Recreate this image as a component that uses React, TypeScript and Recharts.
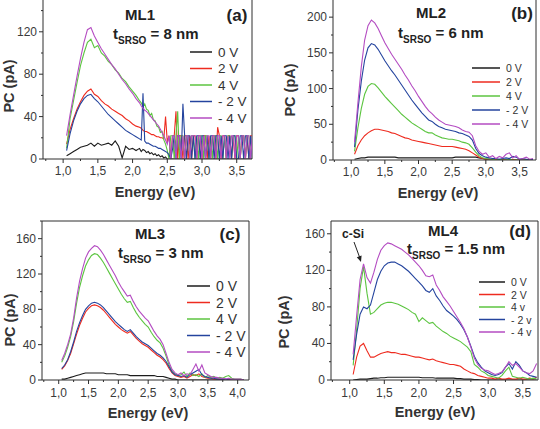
import React from "react";
import { LineChart, Line, XAxis, YAxis, ReferenceLine } from "recharts";

const FONT = '"Liberation Sans", Arial, Helvetica, sans-serif';
const INK = "#2e2e2e";

const SERIES = ["k0", "r2", "g4", "b2", "m4"];
const COLORS: Record<string, string> = {
  k0: "#1c1c1c",
  r2: "#ee2b1f",
  g4: "#5cc540",
  b2: "#24449e",
  m4: "#b44cc2",
};
const legendV = ["0 V", "2 V", "4 V", "- 2 V", "- 4 V"];
const legendLowV = ["0 V", "2 V", "4 v", "- 2 v", "- 4 v"];

// (a) ML1, tSRSO = 8 nm  (finer steps where the signal turns into noise)
const energyA = [
  1.05, 1.1, 1.15, 1.2, 1.25, 1.3, 1.35, 1.4, 1.45, 1.5,
  1.55, 1.6, 1.65, 1.7, 1.75, 1.8, 1.85, 1.9, 1.95, 2.0,
  2.05, 2.1,
  2.125, 2.15, 2.175, 2.2, 2.225, 2.25, 2.275, 2.3,
  2.325, 2.35, 2.375, 2.4, 2.425, 2.45, 2.475, 2.5,
  2.525, 2.55, 2.575, 2.6, 2.625, 2.65, 2.675, 2.7, 2.725, 2.75,
  2.775, 2.8, 2.825, 2.85, 2.875, 2.9, 2.925, 2.95, 2.975, 3.0,
  3.025, 3.05, 3.075, 3.1, 3.125, 3.15, 3.175, 3.2, 3.225, 3.25,
  3.275, 3.3, 3.325, 3.35, 3.375, 3.4, 3.425, 3.45, 3.475, 3.5,
  3.525, 3.55, 3.575, 3.6, 3.625, 3.65, 3.675, 3.7, 3.725, 3.75,
];
const a0V = [
  3, 5, 7, 9, 11, 12, 13, 15, 12, 15, 13, 14, 15, 13, 17, 12, 1, 12, 9, 10, 8, 10,
  7, 9, 8, 6, 7, 5, 6, 4, 5, 3, 4, 2, 3, 1, 2, 0,
  0, 0, 0, 0, 0, 0, 0, 0, 0, 0, 0, 0, 0, 0, 0, 0, 0, 0, 0, 0,
  0, 0, 0, 0, 0, 0, 0, 0, 0, 0, 0, 0, 0, 0, 0, 0, 0, 0, 0, 0,
  0, 0, 0, 0, 0, 0, 0, 0, 0, 0,
];
const a2V = [
  14, 28, 38, 47, 54, 60, 64, 66, 61, 59, 55, 52, 50, 47, 45, 43, 41, 38, 36, 33, 31, 30,
  29, 27, 26, 26, 25, 24, 23, 23, 22, 21, 21, 20, 20, 19, 40, 16,
  22, 0, 22, 22, 45, 0, 22, 22, 0, 22, 22, 0, 22, 0, 22, 22, 0, 22, 22, 0,
  22, 22, 0, 22, 0, 22, 22, 0, 30, 22, 0, 22, 22, 0, 22, 22, 0, 22, 0, 22,
  22, 0, 22, 22, 0, 22, 0, 22, 22, 0,
];
const a4V = [
  10, 38, 55, 72, 88, 100, 110, 113, 105, 107, 100, 97, 92, 89, 84, 81, 76, 73, 68, 64, 60, 55,
  53, 49, 52, 47, 46, 41, 43, 37, 36, 31, 30, 25, 26, 18, 14, 8,
  0, 22, 22, 0, 22, 45, 0, 22, 22, 0, 22, 22, 0, 22, 22, 0, 22, 0, 22, 22,
  0, 22, 22, 0, 22, 0, 22, 22, 0, 22, 22, 0, 22, 0, 22, 22, 0, 22, 22, 0,
  22, 0, 22, 22, 0, 22, 22, 0, 22, 22,
];
const aM2V = [
  8, 24, 36, 45, 52, 57, 60, 61, 57, 54, 50, 46, 42, 39, 36, 33, 30, 27, 25, 23, 21, 19,
  18, 62, 17, 15, 15, 14, 13, 12, 12, 11, 10, 10, 9, 8, 7, 6,
  4, 0, 9, 22, 0, 22, 22, 0, 52, 22, 0, 22, 22, 0, 22, 0, 22, 22, 0, 22,
  22, 0, 22, 0, 22, 22, 0, 22, 22, 0, 22, 0, 22, 22, 0, 22, 0, 22, 22, 0,
  0, 22, 22, 0, 22, 22, 0, 22, 0, 22,
];
const aM4V = [
  22, 42, 60, 78, 95, 110, 122, 124, 116, 110, 104, 99, 94, 89, 85, 80, 75, 71, 66, 62, 57, 53,
  50, 48, 46, 45, 43, 41, 39, 37, 35, 33, 31, 28, 25, 22, 18, 14,
  22, 0, 22, 22, 0, 22, 22, 0, 22, 0, 22, 22, 0, 22, 22, 22, 0, 22, 22, 0,
  22, 0, 22, 22, 0, 22, 22, 0, 22, 22, 0, 22, 22, 0, 22, 0, 22, 22, 0, 22,
  22, 0, 22, 22, 0, 22, 22, 0, 22, 22,
];

// (b) ML2, tSRSO = 6 nm
const energyB = [
  1.05, 1.1, 1.15, 1.2, 1.25, 1.3, 1.35, 1.4, 1.45, 1.5,
  1.55, 1.6, 1.65, 1.7, 1.75, 1.8, 1.85, 1.9, 1.95, 2.0,
  2.05, 2.1, 2.15, 2.2, 2.25, 2.3, 2.35, 2.4, 2.45, 2.5,
  2.55, 2.6, 2.65, 2.7, 2.75, 2.8, 2.85, 2.9, 2.95, 3.0,
  3.05, 3.1, 3.15, 3.2, 3.25, 3.3, 3.35, 3.4, 3.45, 3.5,
  3.55, 3.6, 3.65, 3.7,
];
const b0V = [
  1, 2, 3, 3, 4, 4, 4, 4, 4, 4, 4, 4, 4, 3, 3, 3, 3, 3, 3, 3,
  3, 3, 3, 3, 3, 3, 3, 3, 3, 3, 4, 4, 4, 4, 4, 4, 4, 3, 2, 1,
  1, 0, 0, 0, 0, 0, 0, 0, 0, 0, 0, 0, 0, 0,
];
const b2V = [
  8, 20, 28, 34, 38, 41, 43, 43, 42, 41, 40, 38, 37, 35, 33, 31, 30, 28, 27, 26,
  25, 24, 23, 22, 21, 20, 19, 19, 19, 19, 18, 17, 16, 15, 13, 10, 7, 4, 2, 1,
  1, 0, 1, 0, 1, 0, 0, 1, 0, 0, 0, 0, 0, 0,
];
const b4V = [
  12, 45, 72, 92, 103, 107, 106, 101, 95, 89, 84, 79, 74, 69, 64, 60, 56, 52, 49, 46,
  43, 40, 38, 38, 35, 33, 31, 30, 29, 29, 28, 27, 25, 24, 22, 17, 11, 6, 3, 2,
  1, 1, 0, 1, 0, 0, 1, 0, 0, 0, 0, 0, 0, 0,
];
const bM2V = [
  18, 70, 110, 140, 157, 163, 161, 155, 147, 139, 132, 125, 119, 112, 105, 98, 91, 84, 78, 72,
  66, 61, 56, 54, 50, 47, 45, 43, 42, 41, 40, 38, 37, 35, 33, 28, 16, 9, 6, 4,
  3, 2, 2, 1, 2, 3, 2, 5, 4, 1, 2, 1, 0, 1,
];
const bM4V = [
  25, 80, 130, 168, 188, 196, 192, 184, 174, 164, 156, 148, 141, 134, 127, 119, 112, 104, 97, 89,
  82, 75, 69, 65, 60, 56, 53, 50, 49, 48, 47, 45, 42, 40, 39, 34, 20, 12, 8, 10,
  4, 6, 2, 5, 3, 8, 10, 3, 6, 1, 2, 4, 1, 2,
];

// (c) ML3, tSRSO = 3 nm
const energyC = [
  1.05, 1.1, 1.15, 1.2, 1.25, 1.3, 1.35, 1.4, 1.45, 1.5,
  1.55, 1.6, 1.65, 1.7, 1.75, 1.8, 1.85, 1.9, 1.95, 2.0,
  2.05, 2.1, 2.15, 2.2, 2.25, 2.3, 2.35, 2.4, 2.45, 2.5,
  2.55, 2.6, 2.65, 2.7, 2.75, 2.8, 2.85, 2.9, 2.95, 3.0,
  3.05, 3.1, 3.15, 3.2, 3.25, 3.3, 3.35, 3.4, 3.45, 3.5,
  3.55, 3.6, 3.65, 3.7, 3.75, 3.8, 3.85, 3.9, 3.95, 4.0,
  4.05, 4.1,
];
const c0V = [
  1, 1, 2, 3, 4, 5, 6, 7, 8, 8, 8, 8, 8, 8, 8, 7, 7, 7, 7, 6,
  6, 6, 6, 5, 5, 5, 5, 5, 5, 5, 5, 5, 4, 4, 4, 3, 2, 1, 1, 0,
  0, 0, 0, 0, 0, 0, 0, 0, 0, 0, 0, 0, 0, 0, 0, 0, 0, 0, 0, 0,
  0, 0,
];
const c2V = [
  12, 16, 22, 30, 41, 52, 62, 70, 77, 81, 84, 85, 84, 82, 79, 75, 71, 67, 63, 60,
  57, 55, 53, 55, 51, 47, 44, 41, 39, 37, 34, 31, 28, 26, 23, 19, 13, 8, 5, 4,
  3, 4, 2, 4, 6, 5, 7, 4, 3, 2, 2, 1, 1, 1, 0, 0, 0, 0, 0, 0,
  0, 0,
];
const c4V = [
  20, 27, 37, 49, 66, 87, 105, 118, 129, 136, 141, 143, 142, 138, 133, 127, 121, 115, 109, 103,
  97, 92, 88, 89, 82, 76, 71, 67, 63, 60, 54, 49, 45, 42, 36, 27, 17, 10, 7, 5,
  6, 9, 4, 8, 5, 6, 4, 7, 3, 5, 3, 4, 2, 3, 2, 4, 5, 2, 1, 1,
  1, 0,
];
const cM2V = [
  13, 17, 23, 32, 43, 55, 65, 73, 80, 84, 87, 88, 87, 85, 82, 78, 74, 70, 66, 63,
  60, 57, 55, 57, 53, 49, 46, 43, 41, 39, 36, 33, 30, 28, 25, 21, 15, 9, 6, 5,
  4, 5, 3, 6, 8, 10, 12, 6, 4, 3, 2, 2, 1, 1, 1, 1, 0, 0, 0, 0,
  0, 0,
];
const cM4V = [
  22, 30, 40, 52, 70, 93, 112, 126, 138, 145, 149, 152, 151, 147, 142, 136, 130, 124, 118, 111,
  105, 100, 95, 96, 89, 83, 78, 74, 70, 67, 61, 55, 50, 46, 40, 30, 20, 12, 8, 6,
  8, 5, 7, 6, 12, 18, 10, 17, 8, 6, 4, 3, 3, 2, 2, 1, 2, 1, 1, 1,
  1, 0,
];

// (d) ML4, tSRSO = 1.5 nm
const energyD = [
  1.05, 1.1, 1.15, 1.2, 1.25, 1.3, 1.35, 1.4, 1.45, 1.5,
  1.55, 1.6, 1.65, 1.7, 1.75, 1.8, 1.85, 1.9, 1.95, 2.0,
  2.05, 2.1, 2.15, 2.2, 2.25, 2.3, 2.35, 2.4, 2.45, 2.5,
  2.55, 2.6, 2.65, 2.7, 2.75, 2.8, 2.85, 2.9, 2.95, 3.0,
  3.05, 3.1, 3.15, 3.2, 3.25, 3.3, 3.35, 3.4, 3.45, 3.5,
  3.55, 3.6, 3.65, 3.7,
];
const d0V = [
  0, 0.5, 1, 1, 1, 1.5, 2, 2, 2.5, 2.5, 3, 3, 3, 3, 3, 3, 3, 3, 3, 3,
  2.5, 2.5, 2.5, 2.5, 2, 2, 2, 2, 2, 2, 1.5, 1.5, 1, 1, 1, 0.5, 0.5, 0, 0, 0,
  0, 0, 0, 0, 0, 0, 0, 0, 0, 0, 0, 0, 0, 0,
];
const d2V = [
  6, 25, 37, 40, 32, 25, 25, 27, 29, 30, 31, 30, 30, 29, 28, 28, 27, 26, 25, 25,
  24, 23, 22, 23, 21, 20, 19, 18, 17, 17, 16, 15, 12, 10, 8, 7, 5, 4, 3, 2,
  2, 1, 2, 1, 1, 2, 1, 1, 2, 1, 1, 2, 1, 3,
];
const d4V = [
  16, 55, 100, 124, 95, 72, 74, 78, 82, 84, 85, 85, 84, 83, 81, 79, 77, 74, 72, 64,
  68, 65, 62, 63, 59, 56, 53, 51, 48, 46, 44, 42, 39, 36, 31, 17, 14, 10, 8, 5,
  4, 3, 2, 5, 10, 14, 4, 3, 2, 3, 2, 1, 2, 1,
];
const dM2V = [
  22, 50, 72, 80, 78, 82, 96, 110, 119, 125, 128, 129, 129, 127, 125, 122, 119, 115, 111, 107,
  103, 98, 96, 100, 92, 87, 81, 76, 73, 70, 66, 61, 55, 47, 37, 26, 19, 14, 10, 8,
  6, 5, 6, 8, 14, 18, 12, 20, 16, 10, 8, 5, 4, 3,
];
const dM4V = [
  28, 70, 110, 127, 112, 106, 118, 132, 142, 147, 150, 149, 147, 145, 143, 140, 137, 133, 129, 125,
  120, 114, 113, 115, 104, 98, 91, 86, 81, 75, 69, 63, 56, 47, 36, 24, 17, 13, 11, 10,
  8, 6, 7, 9, 14, 20, 16, 18, 14, 10, 8, 7, 10, 18,
];

const rows = (e: number[], k0: number[], r2: number[], g4: number[], b2: number[], m4: number[]) =>
  e.map((x, i) => ({ e: x, k0: k0[i], r2: r2[i], g4: g4[i], b2: b2[i], m4: m4[i] }));

const dataA = rows(energyA, a0V, a2V, a4V, aM2V, aM4V);
const dataB = rows(energyB, b0V, b2V, b4V, bM2V, bM4V);
const dataC = rows(energyC, c0V, c2V, c4V, cM2V, cM4V);
const dataD = rows(energyD, d0V, d2V, d4V, dM2V, dM4V);

const XTick = (props: any) => {
  const { x, y, payload, labelDy } = props;
  const v = payload.value;
  const major = Math.abs(v * 2 - Math.round(v * 2)) < 1e-6;
  return (
    <g>
      <line x1={x} y1={y} x2={x} y2={y + (major ? 4 : 2)} stroke={INK} />
      {major && (
        <text x={x} y={y + labelDy} textAnchor="middle" fontSize={12} fill="#3a3a3a" fontFamily={FONT}>
          {v.toFixed(1).replace(".", ",")}
        </text>
      )}
    </g>
  );
};

const YTick = (props: any) => {
  const { x, y, payload, major } = props;
  const v = payload.value;
  const isMajor = v % major === 0;
  return (
    <g>
      <line x1={x} y1={y} x2={x - (isMajor ? 4 : 2)} y2={y} stroke={INK} />
      {isMajor && (
        <text x={x - 6} y={y + 4} textAnchor="end" fontSize={12} fill="#3a3a3a" fontFamily={FONT}>
          {v}
        </text>
      )}
    </g>
  );
};

type PanelProps = {
  left: number;
  top: number;
  width: number;
  height: number;
  yAxisWidth: number;
  xAxisHeight: number;
  marginTop: number;
  marginRight: number;
  xDomain: [number, number];
  yDomain: [number, number];
  xTicks: number[];
  yTicks: number[];
  yMajor: number;
  labelDy: number;
  data: any[];
  boxTop: boolean;
};

const Panel = (p: PanelProps) => (
  <div style={{ position: "absolute", left: p.left, top: p.top }}>
    <LineChart
      width={p.width}
      height={p.height}
      data={p.data}
      margin={{ top: p.marginTop, right: p.marginRight, bottom: 0, left: 0 }}
    >
      <XAxis
        type="number"
        dataKey="e"
        domain={p.xDomain}
        ticks={p.xTicks}
        interval={0}
        allowDataOverflow
        height={p.xAxisHeight}
        tickSize={0}
        tickMargin={0}
        tickLine={false}
        axisLine={{ stroke: INK }}
        tick={(t: any) => <XTick {...t} labelDy={p.labelDy} />}
      />
      <YAxis
        type="number"
        domain={p.yDomain}
        ticks={p.yTicks}
        interval={0}
        allowDataOverflow
        width={p.yAxisWidth}
        tickSize={0}
        tickMargin={0}
        tickLine={false}
        axisLine={{ stroke: INK }}
        tick={(t: any) => <YTick {...t} major={p.yMajor} />}
      />
      <ReferenceLine x={p.xDomain[1]} stroke={INK} />
      {p.boxTop && <ReferenceLine y={p.yDomain[1]} stroke={INK} />}
      {SERIES.map((k) => (
        <Line
          key={k}
          type="linear"
          dataKey={k}
          stroke={COLORS[k]}
          strokeWidth={1.1}
          dot={false}
          isAnimationActive={false}
        />
      ))}
    </LineChart>
  </div>
);

const LegendBox = ({ x, y, step, len, size, labels }: any) => (
  <g>
    {SERIES.map((k, i) => (
      <g key={k}>
        <line x1={x} x2={x + len} y1={y + i * step} y2={y + i * step} stroke={COLORS[k]} strokeWidth={1.5} />
        <text
          x={x + len + 6}
          y={y + i * step}
          dominantBaseline="central"
          fontSize={size}
          fill="#333"
          fontFamily={FONT}
        >
          {labels[i]}
        </text>
      </g>
    ))}
  </g>
);

const Heading = ({ cx, y, name, tx, ty, nm, tag, tagX }: any) => (
  <g fontFamily={FONT} fontWeight="bold" fill="#222">
    <text x={cx} y={y} textAnchor="middle" fontSize={15}>{name}</text>
    <text x={tx} y={ty} fontSize={15}>
      t<tspan fontSize={10} dy={5}>SRSO</tspan>
      <tspan dy={-5}> = {nm} nm</tspan>
    </text>
    <text x={tagX} y={y + 1} textAnchor="middle" fontSize={17}>{tag}</text>
  </g>
);

const AxisTitles = ({ ex, ey, px, py }: any) => (
  <g fontFamily={FONT} fontWeight="bold" fill="#333" fontSize={14.5}>
    <text x={ex} y={ey} textAnchor="middle" dominantBaseline="central">Energy (eV)</text>
    <text transform={`translate(${px},${py}) rotate(-90)`} textAnchor="middle" dominantBaseline="central">
      PC (pA)
    </text>
  </g>
);

const ticksX = [0.75, 1, 1.25, 1.5, 1.75, 2, 2.25, 2.5, 2.75, 3, 3.25, 3.5];
const ticksXC = [0.75, 1, 1.25, 1.5, 1.75, 2, 2.25, 2.5, 2.75, 3, 3.25, 3.5, 3.75, 4];

export default function App() {
  return (
    <div
      style={{
        position: "absolute",
        left: 0,
        top: 0,
        width: 540,
        height: 429,
        overflow: "hidden",
        background: "#fff",
      }}
    >
      <Panel
        left={0} top={0} width={270} height={210}
        yAxisWidth={43} xAxisHeight={51} marginTop={0} marginRight={18}
        xDomain={[0.71, 3.72]} yDomain={[0, 150]}
        xTicks={ticksX} yTicks={[0, 20, 40, 60, 80, 100, 120, 140]} yMajor={40}
        labelDy={15.5} data={dataA} boxTop={false}
      />
      <Panel
        left={270} top={0} width={270} height={210}
        yAxisWidth={63} xAxisHeight={50} marginTop={0} marginRight={4}
        xDomain={[0.73, 3.745]} yDomain={[0, 224]}
        xTicks={ticksX} yTicks={[0, 25, 50, 75, 100, 125, 150, 175, 200]} yMajor={50}
        labelDy={15.5} data={dataB} boxTop={false}
      />
      <Panel
        left={0} top={210} width={270} height={219}
        yAxisWidth={42} xAxisHeight={49} marginTop={11} marginRight={21}
        xDomain={[0.72, 4.19]} yDomain={[0, 180]}
        xTicks={ticksXC} yTicks={[0, 20, 40, 60, 80, 100, 120, 140, 160, 180]} yMajor={40}
        labelDy={17} data={dataC} boxTop
      />
      <Panel
        left={270} top={210} width={270} height={219}
        yAxisWidth={61} xAxisHeight={49} marginTop={11} marginRight={2}
        xDomain={[0.73, 3.72]} yDomain={[0, 174]}
        xTicks={ticksX} yTicks={[0, 20, 40, 60, 80, 100, 120, 140, 160]} yMajor={40}
        labelDy={17} data={dataD} boxTop
      />
      <svg
        width={540}
        height={429}
        style={{ position: "absolute", left: 0, top: 0, pointerEvents: "none" }}
      >
        <Heading cx={140} y={20} name="ML1" tx={113} ty={39} nm="8" tag="(a)" tagX={237} />
        <Heading cx={431} y={18} name="ML2" tx={398} ty={38} nm="6" tag="(b)" tagX={522} />
        <Heading cx={150} y={239} name="ML3" tx={118} ty={258} nm="3" tag="(c)" tagX={230} />
        <Heading cx={443} y={236} name="ML4" tx={407} ty={254} nm="1.5" tag="(d)" tagX={520} />

        <LegendBox x={190} y={52} step={16.5} len={22} size={13.5} labels={legendV} />
        <LegendBox x={472} y={68} step={14} len={28} size={10.5} labels={legendV} />
        <LegendBox x={187} y={286} step={16.5} len={23} size={14} labels={legendV} />
        <LegendBox x={479} y={282} step={12.5} len={26} size={10.5} labels={legendLowV} />

        <AxisTitles ex={155} ey={192} px={9} py={86} />
        <AxisTitles ex={438} ey={193} px={290} py={90} />
        <AxisTitles ex={148} ey={413} px={10} py={320} />
        <AxisTitles ex={435} ey={412} px={284} py={322} />

        <text x={353} y={238} textAnchor="middle" fontSize={12} fontWeight="bold" fill="#222" fontFamily={FONT}>
          c-Si
        </text>
        <line x1={354} y1={242} x2={359.5} y2={257} stroke="#222" strokeWidth={1} />
        <polygon points="361,262 361.6,255.5 356.8,257.2" fill="#222" />
      </svg>
    </div>
  );
}
